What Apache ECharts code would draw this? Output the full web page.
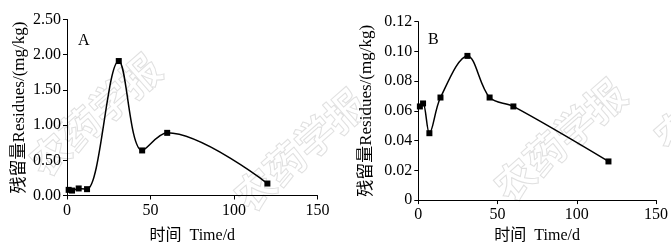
<!DOCTYPE html>
<html><head><meta charset="utf-8">
<script src="https://cdn.jsdelivr.net/npm/echarts@6/dist/echarts.min.js"></script>
<style>html,body{margin:0;padding:0;background:#fff}#c{width:671px;height:249px}</style>
</head><body><div id="c"></div>
<script>
// Panel A
const timeA = [1, 3, 7, 12, 31, 45, 60, 120];
const residueA = [0.08, 0.07, 0.10, 0.09, 1.91, 0.64, 0.89, 0.17];
// Panel B
const timeB = [1, 3, 7, 14, 31, 45, 60, 120];
const residueB = [0.063, 0.065, 0.045, 0.069, 0.097, 0.069, 0.063, 0.026];
const xTicks = [0, 50, 100, 150];
const yTicksA = [0, 0.5, 1.0, 1.5, 2.0, 2.5];
const yTicksB = [0, 0.02, 0.04, 0.06, 0.08, 0.10, 0.12];
const xName = '时间  Time/d';
const yName = '残留量Residues/(mg/kg)';
const panelLabels = ['A', 'B'];
const watermark = '农药学报';

const FONT = '"Liberation Serif", "Noto Sans CJK SC", serif';
const chart = echarts.init(document.getElementById('c'), null, {renderer: 'canvas'});

function xAxis(idx, gap) {
  return {
    type: 'value', gridIndex: idx, min: xTicks[0], max: xTicks[xTicks.length - 1], interval: 50,
    name: xName, nameLocation: 'middle', nameGap: gap,
    nameTextStyle: {fontFamily: FONT, fontSize: 16, color: '#000'},
    axisLine: {show: true, lineStyle: {color: '#000', width: 1}},
    axisTick: {show: true, length: 4, lineStyle: {color: '#000'}},
    axisLabel: {fontFamily: FONT, fontSize: 16, color: '#000', margin: 7},
    splitLine: {show: false}
  };
}
function yAxis(idx, ticks, interval, fmt, gap) {
  return {
    type: 'value', gridIndex: idx, min: ticks[0], max: ticks[ticks.length - 1], interval: interval,
    name: yName, nameLocation: 'middle', nameGap: gap,
    nameTextStyle: {fontFamily: FONT, fontSize: 17, color: '#000'},
    axisLine: {show: true, onZero: false, lineStyle: {color: '#000', width: 1}},
    axisTick: {show: true, length: 4, lineStyle: {color: '#000'}},
    axisLabel: {fontFamily: FONT, fontSize: 16, color: '#000', margin: 6, formatter: fmt},
    splitLine: {show: false}
  };
}
function series(idx, xs, ys) {
  return {
    type: 'line', xAxisIndex: idx, yAxisIndex: idx,
    data: xs.map((t, i) => [t, ys[i]]),
    smooth: 0.35, symbol: 'rect', symbolSize: 6, showSymbol: true,
    lineStyle: {color: '#000', width: 1.5},
    itemStyle: {color: '#000'},
    animation: false, z: 5
  };
}
function wm(x, y) {
  return {type: 'text', x: x, y: y, rotation: 0.72, z: -10, silent: true,
    style: {text: watermark, font: 'bold 40px "Noto Sans CJK SC"', fill: 'rgba(0,0,0,0)',
      stroke: '#e0e0e0', lineWidth: 1, align: 'center', verticalAlign: 'middle'}};
}

chart.setOption({
  animation: false,
  grid: [
    {left: 67, top: 19.5, width: 250.5, height: 176},
    {left: 418.3, top: 21.7, width: 237.7, height: 180.6}
  ],
  xAxis: [xAxis(0, 32), xAxis(1, 25)],
  yAxis: [
    yAxis(0, yTicksA, 0.5, v => v.toFixed(2), 39),
    yAxis(1, yTicksB, 0.02, v => v === 0 ? '0' : v.toFixed(2), 43)
  ],
  series: [series(0, timeA, residueA), series(1, timeB, residueB)],
  graphic: [
    wm(95, 115), wm(300, 150), wm(560, 140), wm(720, 90),
    {type: 'text', left: 78, top: 33, style: {text: panelLabels[0], font: '16px "Liberation Serif"', fill: '#000'}},
    {type: 'text', left: 428, top: 32, style: {text: panelLabels[1], font: '16px "Liberation Serif"', fill: '#000'}}
  ]
});
</script></body></html>
